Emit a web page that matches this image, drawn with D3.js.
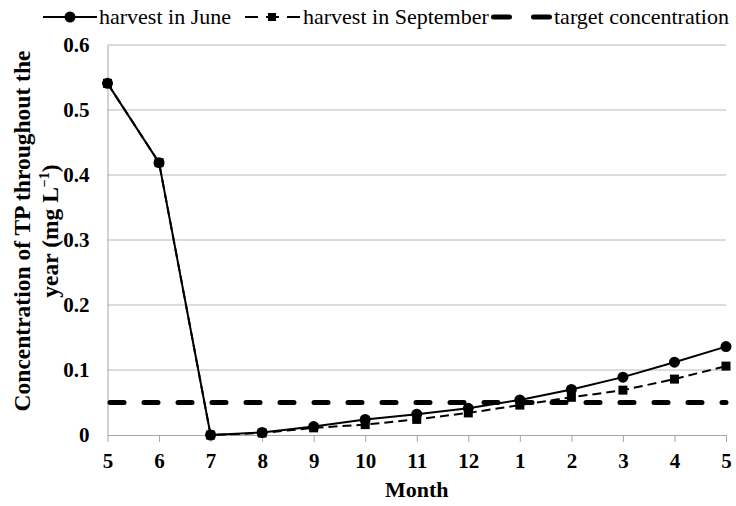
<!DOCTYPE html>
<html>
<head>
<meta charset="utf-8">
<script src="https://cdn.jsdelivr.net/npm/d3@7"></script>
<style>
  body { margin: 0; background: #fff; }
  svg { display: block; font-family: "Liberation Serif", "Times New Roman", serif; }
</style>
</head>
<body>
<svg id="chart" width="736" height="506"></svg>
<script>
// month labels along the x axis (May to May)
const months = ["5", "6", "7", "8", "9", "10", "11", "12", "1", "2", "3", "4", "5"];
// TP concentration (mg/L)
const juneHarvest = [0.541, 0.419, 0, 0.004, 0.013, 0.024, 0.032, 0.041, 0.054, 0.070, 0.089, 0.112, 0.136];
const septHarvest = [0.541, 0.419, 0, 0.003, 0.011, 0.016, 0.024, 0.034, 0.046, 0.058, 0.069, 0.086, 0.106];
const targetConc = 0.05;
const yTicks = [0, 0.1, 0.2, 0.3, 0.4, 0.5, 0.6];

const svg = d3.select("#chart");
const margin = { top: 45, right: 10, bottom: 71, left: 107.5 };
const width = 736, height = 506;

const x = d3.scalePoint()
    .domain(d3.range(months.length))
    .range([margin.left, 726]);

const y = d3.scaleLinear()
    .domain([0, 0.6])
    .range([height - margin.bottom, margin.top]);

// gridlines
svg.append("g")
    .selectAll("line")
    .data(yTicks.slice(1))
    .enter()
    .append("line")
    .attr("x1", x(0))
    .attr("x2", x(months.length - 1))
    .attr("y1", d => y(d))
    .attr("y2", d => y(d))
    .attr("stroke", "#b8b8b8")
    .attr("stroke-width", 1);

// y axis
const yAxis = svg.append("g")
    .attr("transform", `translate(${margin.left},0)`)
    .call(d3.axisLeft(y).tickValues(yTicks).tickSize(0).tickPadding(18)
        .tickFormat(d => d === 0 ? "0" : d3.format(".1f")(d)));
yAxis.attr("font-family", null);
yAxis.select(".domain").attr("stroke", "#a6a6a6");
yAxis.selectAll("text")
    .attr("font-size", 21)
    .attr("font-weight", "bold")
    .attr("fill", "#000");

// x axis
const xAxis = svg.append("g")
    .attr("transform", `translate(0,${y(0)})`)
    .call(d3.axisBottom(x).tickSizeInner(7).tickSizeOuter(0).tickPadding(11)
        .tickFormat(i => months[i]));
xAxis.attr("font-family", null);
xAxis.select(".domain").attr("stroke", "#a6a6a6");
xAxis.selectAll(".tick line").attr("stroke", "#a6a6a6");
xAxis.selectAll("text")
    .attr("font-size", 21)
    .attr("font-weight", "bold")
    .attr("fill", "#000");

// target concentration
svg.append("line")
    .attr("x1", x(0) + 2.5)
    .attr("x2", x(months.length - 1))
    .attr("y1", y(targetConc))
    .attr("y2", y(targetConc))
    .attr("stroke", "#000")
    .attr("stroke-width", 5)
    .attr("stroke-linecap", "round")
    .attr("stroke-dasharray", "14,20");

const line = d3.line()
    .x((d, i) => x(i))
    .y(d => y(d));

// harvest in June
svg.append("path")
    .datum(juneHarvest)
    .attr("fill", "none")
    .attr("stroke", "#000")
    .attr("stroke-width", 2)
    .attr("d", line);

svg.append("g")
    .selectAll("circle")
    .data(juneHarvest)
    .enter()
    .append("circle")
    .attr("cx", (d, i) => x(i))
    .attr("cy", d => y(d))
    .attr("r", 5.5)
    .attr("fill", "#000");

// harvest in September
svg.append("path")
    .datum(septHarvest)
    .attr("fill", "none")
    .attr("stroke", "#000")
    .attr("stroke-width", 2)
    .attr("stroke-dasharray", "9,5")
    .attr("d", line);

svg.append("g")
    .selectAll("rect")
    .data(septHarvest)
    .enter()
    .append("rect")
    .attr("x", (d, i) => x(i) - 4.5)
    .attr("y", d => y(d) - 4.5)
    .attr("width", 9)
    .attr("height", 9)
    .attr("fill", "#000");

// axis titles
svg.append("text")
    .attr("x", (x(0) + x(months.length - 1)) / 2)
    .attr("y", 497)
    .attr("text-anchor", "middle")
    .attr("font-size", 22)
    .attr("font-weight", "bold")
    .text("Month");

const yTitle = svg.append("text")
    .attr("transform", "translate(0,231) rotate(-90)")
    .attr("text-anchor", "middle")
    .attr("font-size", 23.5)
    .attr("font-weight", "bold");
yTitle.append("tspan")
    .attr("x", 0)
    .attr("y", 30)
    .text("Concentration of TP throughout the");
const line2 = yTitle.append("tspan")
    .attr("x", 0)
    .attr("y", 58);
line2.append("tspan").text("year (mg L");
line2.append("tspan").attr("font-size", 14).attr("dy", -9).text("−1");
line2.append("tspan").attr("dy", 9).text(")");

// legend
const legend = svg.append("g").attr("font-size", 22);
const legY = 17;

legend.append("line")
    .attr("x1", 43).attr("x2", 97).attr("y1", legY).attr("y2", legY)
    .attr("stroke", "#000").attr("stroke-width", 2);
legend.append("circle").attr("cx", 70).attr("cy", legY).attr("r", 5.5).attr("fill", "#000");
legend.append("text").attr("x", 99).attr("y", 24).text("harvest in June");

legend.append("line")
    .attr("x1", 245).attr("x2", 300).attr("y1", legY).attr("y2", legY)
    .attr("stroke", "#000").attr("stroke-width", 2)
    .attr("stroke-dasharray", "13,8");
legend.append("rect").attr("x", 268).attr("y", legY - 4).attr("width", 8).attr("height", 8).attr("fill", "#000");
legend.append("text").attr("x", 303).attr("y", 24).text("harvest in September");

legend.append("line")
    .attr("x1", 493.5).attr("x2", 549.5).attr("y1", legY).attr("y2", legY)
    .attr("stroke", "#000").attr("stroke-width", 5)
    .attr("stroke-linecap", "round")
    .attr("stroke-dasharray", "16,24");
legend.append("text").attr("x", 554).attr("y", 24).text("target concentration");
</script>
</body>
</html>
